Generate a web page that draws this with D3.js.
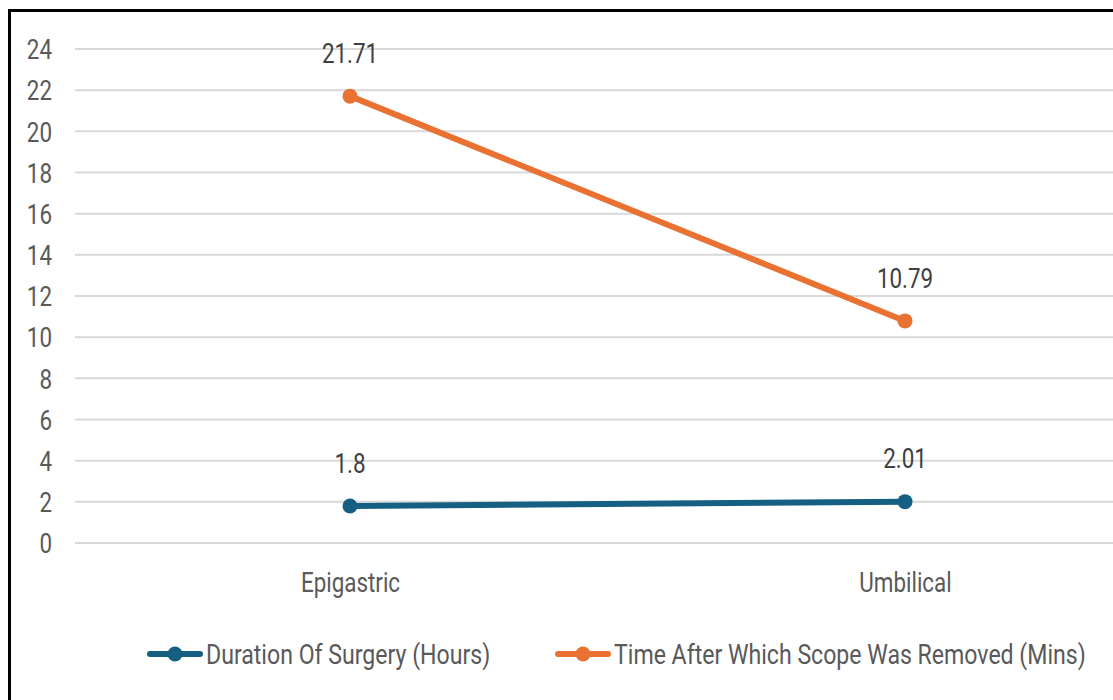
<!DOCTYPE html>
<html>
<head>
<meta charset="utf-8">
<script src="https://cdn.jsdelivr.net/npm/d3@7"></script>
<style>
  html, body { margin: 0; padding: 0; background: #fff; }
  svg { display: block; }
  text { font-family: Roboto, "Liberation Sans", sans-serif; }
</style>
</head>
<body>
<svg id="chart" width="1113" height="700"></svg>
<script>
// Surgical comparison by port site
const categories = ["Epigastric", "Umbilical"];
const durationHours = [1.8, 2.01];
const scopeRemovedMins = [21.71, 10.79];
const yTicks = [0, 2, 4, 6, 8, 10, 12, 14, 16, 18, 20, 22, 24];
const seriesNames = ["Duration Of Surgery (Hours)", "Time After Which Scope Was Removed (Mins)"];
const seriesColors = ["#156082", "#E97132"];

const series = [
  { name: seriesNames[0], values: durationHours, color: seriesColors[0] },
  { name: seriesNames[1], values: scopeRemovedMins, color: seriesColors[1] }
];

const svg = d3.select("#chart");
const W = 1113, H = 700;
const FS = 28;          // font size
const NARROW = 0.8;     // horizontal squeeze for a narrow face

// draws narrow text at (x, y)
function narrowText(sel, x, y, anchor, squeeze) {
  return sel.append("text")
    .attr("transform", `translate(${x},${y}) scale(${squeeze || NARROW},1)`)
    .attr("dy", "0.35em")
    .attr("text-anchor", anchor)
    .attr("font-size", FS);
}

// outer frame
svg.append("rect")
  .attr("x", 9.5).attr("y", 10.5)
  .attr("width", W + 20).attr("height", H + 20)
  .attr("fill", "#fff").attr("stroke", "#000").attr("stroke-width", 3);

const gridLeft = 75;
const x = d3.scalePoint().domain(categories).range([72.5, 1182.5]).padding(0.5);
const y = d3.scaleLinear().domain([0, 24]).range([543, 49]);

// gridlines
svg.append("g").selectAll("line").data(yTicks).join("line")
  .attr("x1", gridLeft).attr("x2", W)
  .attr("y1", d => y(d)).attr("y2", d => y(d))
  .attr("stroke", "#d9d9d9").attr("stroke-width", 2);

// y axis labels
const yAxis = d3.axisLeft(y).tickValues(yTicks).tickSize(0).tickPadding(0);
const yg = svg.append("g").attr("transform", "translate(52,0)").call(yAxis);
yg.select(".domain").remove();
yg.selectAll(".tick text")
  .attr("font-size", FS).attr("fill", "#595959")
  .attr("font-family", "Roboto, sans-serif")
  .attr("x", 0).attr("dy", "0.35em")
  .attr("transform", `scale(${NARROW},1)`);

// x axis labels
const xAxis = d3.axisBottom(x).tickSize(0).tickPadding(0);
const xg = svg.append("g").attr("transform", "translate(0,582)").call(xAxis);
xg.select(".domain").remove();
xg.selectAll(".tick text")
  .attr("font-size", FS).attr("fill", "#595959")
  .attr("font-family", "Roboto, sans-serif")
  .attr("y", 0).attr("dy", "0.35em")
  .attr("transform", `scale(${NARROW},1)`);

const line = d3.line().x((d, i) => x(categories[i])).y(d => y(d));

series.forEach(s => {
  const g = svg.append("g");
  g.append("path").datum(s.values)
    .attr("d", line).attr("fill", "none")
    .attr("stroke", s.color).attr("stroke-width", 6)
    .attr("stroke-linecap", "round");
  g.selectAll("circle").data(s.values).join("circle")
    .attr("cx", (d, i) => x(categories[i])).attr("cy", d => y(d))
    .attr("r", 7.5).attr("fill", s.color);
  s.values.forEach((v, i) => {
    narrowText(g, x(categories[i]), y(v) - 43, "middle")
      .attr("fill", "#404040")
      .text(String(v));
  });
});

// legend
const legendItems = [
  { x: 147, name: seriesNames[0], color: seriesColors[0] },
  { x: 555, name: seriesNames[1], color: seriesColors[1] }
];
const lg = svg.append("g").attr("transform", "translate(0,654)");
legendItems.forEach(it => {
  lg.append("line")
    .attr("x1", it.x + 3).attr("x2", it.x + 53)
    .attr("y1", 0).attr("y2", 0)
    .attr("stroke", it.color).attr("stroke-width", 6).attr("stroke-linecap", "round");
  lg.append("circle").attr("cx", it.x + 28).attr("cy", 0).attr("r", 7.5).attr("fill", it.color);
  narrowText(lg, it.x + 59, 0, "start", 0.825)
    .attr("fill", "#595959")
    .text(it.name);
});
</script>
</body>
</html>
